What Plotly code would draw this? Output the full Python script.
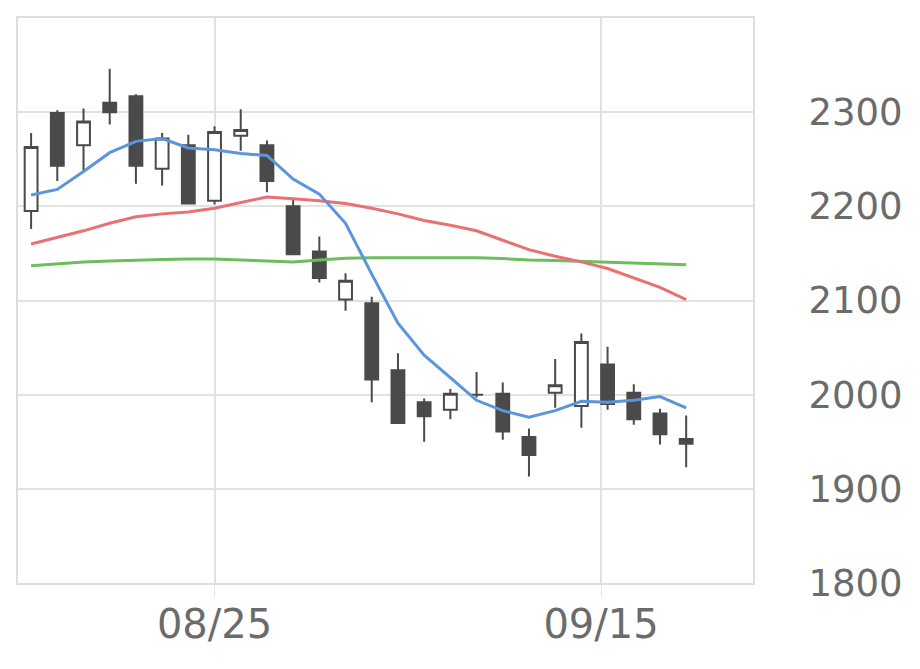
import plotly.graph_objects as go
from datetime import date

dates = ["2025-08-14", "2025-08-15", "2025-08-18", "2025-08-19", "2025-08-20", "2025-08-21",
         "2025-08-22", "2025-08-25", "2025-08-26", "2025-08-27", "2025-08-28", "2025-08-29",
         "2025-09-01", "2025-09-02", "2025-09-03", "2025-09-04", "2025-09-05", "2025-09-08",
         "2025-09-09", "2025-09-10", "2025-09-11", "2025-09-12", "2025-09-16", "2025-09-17",
         "2025-09-18", "2025-09-19"]
open_ = [2195, 2299, 2265, 2310, 2317, 2240, 2265, 2206, 2275, 2265, 2200, 2152, 2101,
         2097, 2026, 1992, 1984, 2000, 2001, 1955, 2002, 1988, 2032, 2002, 1980, 1953]
high = [2278, 2302, 2304, 2346, 2319, 2278, 2276, 2285, 2303, 2270, 2207, 2168, 2129,
        2104, 2044, 1996, 2006, 2024, 2013, 1964, 2038, 2065, 2051, 2011, 1985, 1978]
low = [2176, 2227, 2238, 2287, 2224, 2222, 2202, 2202, 2259, 2215, 2148, 2119, 2089,
       1992, 1969, 1950, 1974, 1997, 1952, 1913, 1986, 1965, 1984, 1968, 1947, 1923]
close = [2263, 2243, 2290, 2300, 2243, 2272, 2203, 2279, 2281, 2227, 2149, 2124, 2121,
         2016, 1970, 1977, 2001, 2000, 1961, 1936, 2010, 2056, 1990, 1974, 1958, 1948]
ma_short = [2212, 2218, 2237, 2257, 2269, 2272, 2262, 2260, 2256, 2254, 2229, 2213, 2182,
            2128, 2076, 2042, 2018, 1994, 1983, 1976, 1983, 1993, 1992, 1994, 1998, 1986]
ma_mid = [2160, 2167, 2174, 2182, 2189, 2192, 2194, 2198, 2204, 2210, 2208, 2206, 2203,
          2198, 2192, 2185, 2180, 2174, 2164, 2154, 2147, 2141, 2134, 2124, 2114, 2101]
ma_long = [2137, 2139, 2141, 2142, 2143, 2143.5, 2144, 2144, 2143, 2142, 2141, 2143, 2145,
           2145.5, 2145.5, 2145, 2145.5, 2145.5, 2144.5, 2143, 2142.5, 2141.5, 2140.5,
           2139.5, 2138.5, 2138]
tick_dates = ["2025-08-25", "2025-09-15"]
tick_labels = ["08/25", "09/15"]
y_ticks = [1800, 1900, 2000, 2100, 2200, 2300]

xs = list(range(len(dates)))
dd = [date.fromisoformat(d) for d in dates]


def date_pos(s):
    t = date.fromisoformat(s)
    for i in range(len(dd) - 1):
        if dd[i] <= t <= dd[i + 1]:
            return i + (t - dd[i]).days / (dd[i + 1] - dd[i]).days
    return 0


tick_vals = [date_pos(s) for s in tick_dates]

dark = "#4a4a4a"
fig = go.Figure()
fig.add_trace(go.Candlestick(
    x=xs, open=open_, high=high, low=low, close=close,
    increasing=dict(line=dict(color=dark, width=2), fillcolor="white"),
    decreasing=dict(line=dict(color=dark, width=2), fillcolor=dark),
    whiskerwidth=0, showlegend=False))
fig.add_trace(go.Scatter(x=xs, y=ma_long, mode="lines", line=dict(color="#6cbd5c", width=3), showlegend=False))
fig.add_trace(go.Scatter(x=xs, y=ma_mid, mode="lines", line=dict(color="#ea7074", width=3), showlegend=False))
fig.add_trace(go.Scatter(x=xs, y=ma_short, mode="lines", line=dict(color="#5b95dc", width=3), showlegend=False))

yfont = dict(family="DejaVu Sans", size=37, color="#6b6b6b")
xfont = dict(family="DejaVu Sans", size=40, color="#6b6b6b")
fig.update_layout(
    width=912, height=661,
    margin=dict(l=8, r=167, t=8, b=86),
    paper_bgcolor="white", plot_bgcolor="white",
    boxgap=0.3,
    xaxis=dict(range=[-0.5, 27.55], tickmode="array", tickvals=tick_vals, ticktext=tick_labels,
               showgrid=True, gridcolor="#e2e2e2", gridwidth=2,
               ticks="outside", ticklen=12, tickcolor="#dfe5ef", tickwidth=1,
               ticklabelstandoff=-7,
               showline=True, linecolor="#dedede", linewidth=2, mirror=True,
               rangeslider=dict(visible=False), tickfont=xfont, zeroline=False),
    yaxis=dict(range=[1800, 2400], side="right", tickmode="array", tickvals=y_ticks,
               showgrid=True, gridcolor="#e2e2e2", gridwidth=2,
               showline=True, linecolor="#dedede", linewidth=2, mirror=True,
               ticklabelstandoff=46, tickfont=yfont, zeroline=False),
)
fig.write_html("out.html")
